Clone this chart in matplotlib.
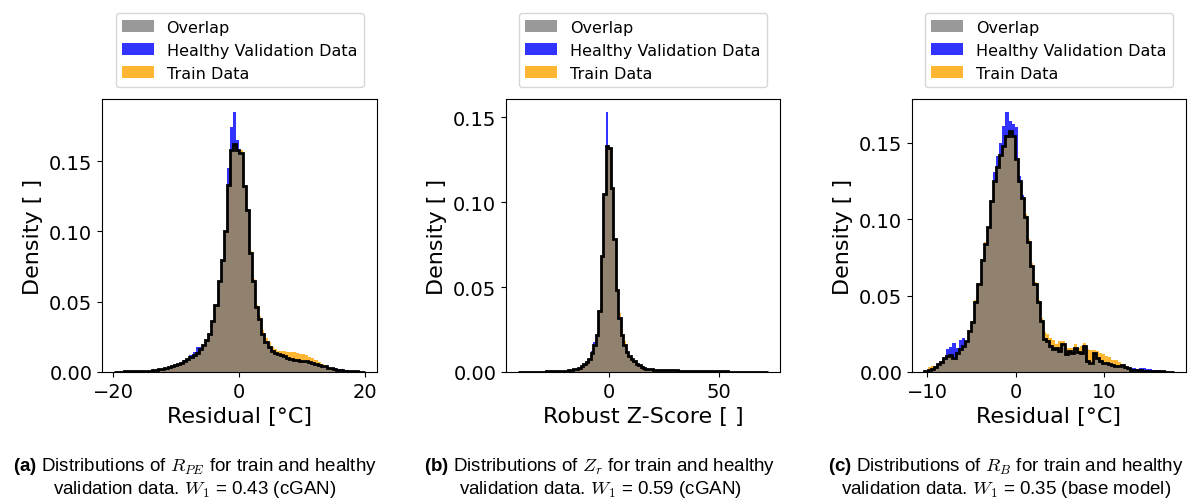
import matplotlib
matplotlib.use("Agg")
import matplotlib.pyplot as plt
import numpy as np
from matplotlib.patches import Patch

plt.rcParams["mathtext.fontset"] = "custom"
plt.rcParams["mathtext.it"] = "cmmi10"
plt.rcParams["mathtext.rm"] = "cmr10"
plt.rcParams["mathtext.bf"] = "Liberation Sans:bold"

# (a) cGAN residual R_PE, 80 bins on [-19.8, 20.0]
rpe_range = (-19.8, 20.0)
rpe_val = [
    0.0003, 0.0003, 0.0003, 0.0004, 0.0004, 0.0005, 0.0005, 0.0006, 0.0007, 0.0008,
    0.0009, 0.0010, 0.0012, 0.0015, 0.0019, 0.0023, 0.0030, 0.0036, 0.0043, 0.0050,
    0.0055, 0.0062, 0.0085, 0.0090, 0.0120, 0.0140, 0.0180, 0.0175, 0.0190, 0.0230,
    0.0270, 0.0360, 0.0480, 0.0650, 0.0800, 0.1000, 0.1450, 0.1740, 0.1850, 0.1650,
    0.1560, 0.1320, 0.1150, 0.0850, 0.0650, 0.0460, 0.0380, 0.0270, 0.0210, 0.0180,
    0.0150, 0.0135, 0.0125, 0.0118, 0.0112, 0.0100, 0.0090, 0.0082, 0.0088, 0.0080,
    0.0078, 0.0075, 0.0070, 0.0066, 0.0060, 0.0052, 0.0045, 0.0040, 0.0032, 0.0030,
    0.0026, 0.0022, 0.0018, 0.0014, 0.0011, 0.0006, 0.0005, 0.0004, 0.0003, 0.0002,
]
rpe_train = [
    0.0003, 0.0003, 0.0003, 0.0004, 0.0004, 0.0005, 0.0005, 0.0006, 0.0007, 0.0008,
    0.0009, 0.0010, 0.0012, 0.0015, 0.0019, 0.0023, 0.0030, 0.0036, 0.0043, 0.0050,
    0.0055, 0.0062, 0.0075, 0.0090, 0.0105, 0.0120, 0.0135, 0.0165, 0.0190, 0.0230,
    0.0270, 0.0360, 0.0480, 0.0650, 0.0800, 0.1000, 0.1330, 0.1580, 0.1620, 0.1580,
    0.1580, 0.1320, 0.1150, 0.0860, 0.0660, 0.0480, 0.0400, 0.0300, 0.0240, 0.0210,
    0.0180, 0.0165, 0.0152, 0.0150, 0.0150, 0.0145, 0.0140, 0.0145, 0.0135, 0.0130,
    0.0125, 0.0120, 0.0110, 0.0100, 0.0088, 0.0074, 0.0060, 0.0050, 0.0036, 0.0026,
    0.0020, 0.0016, 0.0013, 0.0010, 0.0008, 0.0006, 0.0005, 0.0004, 0.0003, 0.0002,
]

# (b) robust z-score Z_r, 100 bins on [-41, 72]
zr_range = (-41.0, 72.0)
zr_val = [
    0.0001, 0.0001, 0.0001, 0.0001, 0.0001, 0.0001, 0.0002, 0.0002, 0.0002, 0.0002,
    0.0002, 0.0003, 0.0003, 0.0003, 0.0004, 0.0004, 0.0005, 0.0006, 0.0007, 0.0008,
    0.0010, 0.0012, 0.0015, 0.0019, 0.0025, 0.0033, 0.0045, 0.0060, 0.0078, 0.0125,
    0.0175, 0.0220, 0.0360, 0.0680, 0.1050, 0.1530, 0.1320, 0.1080, 0.0780, 0.0480,
    0.0320, 0.0220, 0.0160, 0.0120, 0.0092, 0.0075, 0.0064, 0.0050, 0.0042, 0.0032,
    0.0025, 0.0020, 0.0017, 0.0015, 0.0014, 0.0013, 0.0012, 0.0012, 0.0011, 0.0011,
    0.0010, 0.0010, 0.0009, 0.0009, 0.0008, 0.0008, 0.0008, 0.0007, 0.0007, 0.0006,
    0.0006, 0.0006, 0.0005, 0.0005, 0.0005, 0.0004, 0.0004, 0.0004, 0.0004, 0.0003,
    0.0003, 0.0003, 0.0003, 0.0003, 0.0002, 0.0002, 0.0002, 0.0002, 0.0002, 0.0002,
    0.0002, 0.0001, 0.0001, 0.0001, 0.0001, 0.0001, 0.0001, 0.0001, 0.0001, 0.0001,
]
zr_train = [
    0.0001, 0.0001, 0.0001, 0.0001, 0.0001, 0.0001, 0.0002, 0.0002, 0.0002, 0.0002,
    0.0002, 0.0003, 0.0003, 0.0003, 0.0004, 0.0004, 0.0005, 0.0006, 0.0007, 0.0008,
    0.0010, 0.0012, 0.0015, 0.0019, 0.0025, 0.0033, 0.0045, 0.0060, 0.0078, 0.0110,
    0.0160, 0.0220, 0.0360, 0.0680, 0.1050, 0.1330, 0.1320, 0.1080, 0.0780, 0.0520,
    0.0350, 0.0250, 0.0180, 0.0130, 0.0092, 0.0075, 0.0064, 0.0050, 0.0040, 0.0032,
    0.0025, 0.0020, 0.0017, 0.0015, 0.0014, 0.0013, 0.0012, 0.0012, 0.0011, 0.0011,
    0.0010, 0.0010, 0.0009, 0.0009, 0.0008, 0.0008, 0.0008, 0.0007, 0.0007, 0.0006,
    0.0006, 0.0006, 0.0005, 0.0005, 0.0005, 0.0004, 0.0004, 0.0004, 0.0004, 0.0003,
    0.0003, 0.0003, 0.0003, 0.0003, 0.0002, 0.0002, 0.0002, 0.0002, 0.0002, 0.0002,
    0.0002, 0.0001, 0.0001, 0.0001, 0.0001, 0.0001, 0.0001, 0.0001, 0.0001, 0.0001,
]

# (c) base model residual R_B, 80 bins on [-10.3, 17.8]
rb_range = (-10.3, 17.8)
rb_val = [
    0.0005, 0.0012, 0.0020, 0.0035, 0.0050, 0.0065, 0.0090, 0.0150, 0.0165, 0.0190,
    0.0160, 0.0210, 0.0225, 0.0200, 0.0270, 0.0330, 0.0460, 0.0575, 0.0730, 0.0840,
    0.0950, 0.1120, 0.1310, 0.1410, 0.1500, 0.1610, 0.1700, 0.1640, 0.1620, 0.1600,
    0.1280, 0.1160, 0.1015, 0.0850, 0.0690, 0.0575, 0.0455, 0.0335, 0.0215, 0.0200,
    0.0170, 0.0150, 0.0158, 0.0136, 0.0180, 0.0115, 0.0136, 0.0125, 0.0158, 0.0130,
    0.0125, 0.0170, 0.0070, 0.0060, 0.0125, 0.0090, 0.0070, 0.0060, 0.0060, 0.0050,
    0.0048, 0.0040, 0.0037, 0.0045, 0.0030, 0.0025, 0.0025, 0.0026, 0.0020, 0.0026,
    0.0026, 0.0020, 0.0018, 0.0012, 0.0012, 0.0010, 0.0008, 0.0006, 0.0003, 0.0002,
]
rb_train = [
    0.0010, 0.0030, 0.0040, 0.0040, 0.0055, 0.0070, 0.0092, 0.0105, 0.0114, 0.0092,
    0.0125, 0.0150, 0.0170, 0.0205, 0.0275, 0.0335, 0.0470, 0.0585, 0.0740, 0.0850,
    0.0950, 0.1120, 0.1250, 0.1340, 0.1420, 0.1480, 0.1540, 0.1575, 0.1540, 0.1390,
    0.1250, 0.1140, 0.1030, 0.0870, 0.0710, 0.0590, 0.0470, 0.0350, 0.0260, 0.0246,
    0.0220, 0.0210, 0.0180, 0.0200, 0.0200, 0.0158, 0.0158, 0.0160, 0.0180, 0.0160,
    0.0170, 0.0190, 0.0150, 0.0145, 0.0147, 0.0135, 0.0125, 0.0115, 0.0103, 0.0095,
    0.0081, 0.0078, 0.0065, 0.0050, 0.0040, 0.0030, 0.0015, 0.0012, 0.0010, 0.0010,
    0.0009, 0.0008, 0.0007, 0.0006, 0.0006, 0.0005, 0.0004, 0.0003, 0.0003, 0.0002,
]

xlabels = ["Residual [°C]", "Robust Z-Score [ ]", "Residual [°C]"]
xticks = [[-20, 0, 20], [0, 50], [-10, 0, 10]]
captions = [
    (r"$\mathbf{(a)}$ Distributions of $R_{PE}$ for train and healthy",
     r"validation data. $W_1$ = 0.43 (cGAN)"),
    (r"$\mathbf{(b)}$ Distributions of $Z_r$ for train and healthy",
     r"validation data. $W_1$ = 0.59 (cGAN)"),
    (r"$\mathbf{(c)}$ Distributions of $R_B$ for train and healthy",
     r"validation data. $W_1$ = 0.35 (base model)"),
]

panels = [
    (rpe_range, rpe_val, rpe_train),
    (zr_range, zr_val, zr_train),
    (rb_range, rb_val, rb_train),
]

W, H = 1192, 502
fig = plt.figure(figsize=(W / 100, H / 100), dpi=100)

# axes boxes in pixels: left, right, top, bottom
boxes = [(102, 377, 100, 373), (506, 780, 100, 373), (912, 1186, 100, 373)]
caption_x = [195, 600, 1006]

handles = [
    Patch(facecolor="gray", alpha=0.8, label="Overlap"),
    Patch(facecolor="blue", alpha=0.8, label="Healthy Validation Data"),
    Patch(facecolor="orange", alpha=0.8, label="Train Data"),
]

for i, ((lo, hi), val, train) in enumerate(panels):
    l, r, t, b = boxes[i]
    ax = fig.add_axes([l / W, 1 - b / H, (r - l) / W, (b - t) / H])
    val = np.array(val)
    train = np.array(train)
    edges = np.linspace(lo, hi, len(val) + 1)
    overlap = np.minimum(val, train)

    ax.stairs(val, edges, fill=True, color="blue", alpha=0.8)
    ax.stairs(train, edges, fill=True, color="orange", alpha=0.8)
    ax.stairs(overlap, edges, fill=True, color="gray", alpha=0.8)
    ax.stairs(overlap, edges, color="black", linewidth=2.0)

    ax.set_xlim(lo - 0.05 * (hi - lo), hi + 0.05 * (hi - lo))
    ax.set_ylim(0, max(val.max(), train.max()) * 1.05)
    ax.set_xticks(xticks[i])
    ax.set_yticks([0.0, 0.05, 0.10, 0.15])
    ax.yaxis.set_major_formatter(matplotlib.ticker.FormatStrFormatter("%.2f"))
    ax.tick_params(labelsize=14)
    ax.set_xlabel(xlabels[i], fontsize=16)
    ax.set_ylabel("Density [ ]", fontsize=16)
    ax.legend(handles=handles, loc="lower center", bbox_to_anchor=(0.5, 1.044),
              fontsize=11.5, borderaxespad=0)

    line1, line2 = captions[i]
    fig.text(caption_x[i] / W, 1 - 467 / H, line1, ha="center", va="center",
             family="Liberation Sans", fontsize=13.5)
    fig.text(caption_x[i] / W, 1 - 490 / H, line2, ha="center", va="center",
             family="Liberation Sans", fontsize=13.5)

fig.savefig("out.png", dpi=100)
